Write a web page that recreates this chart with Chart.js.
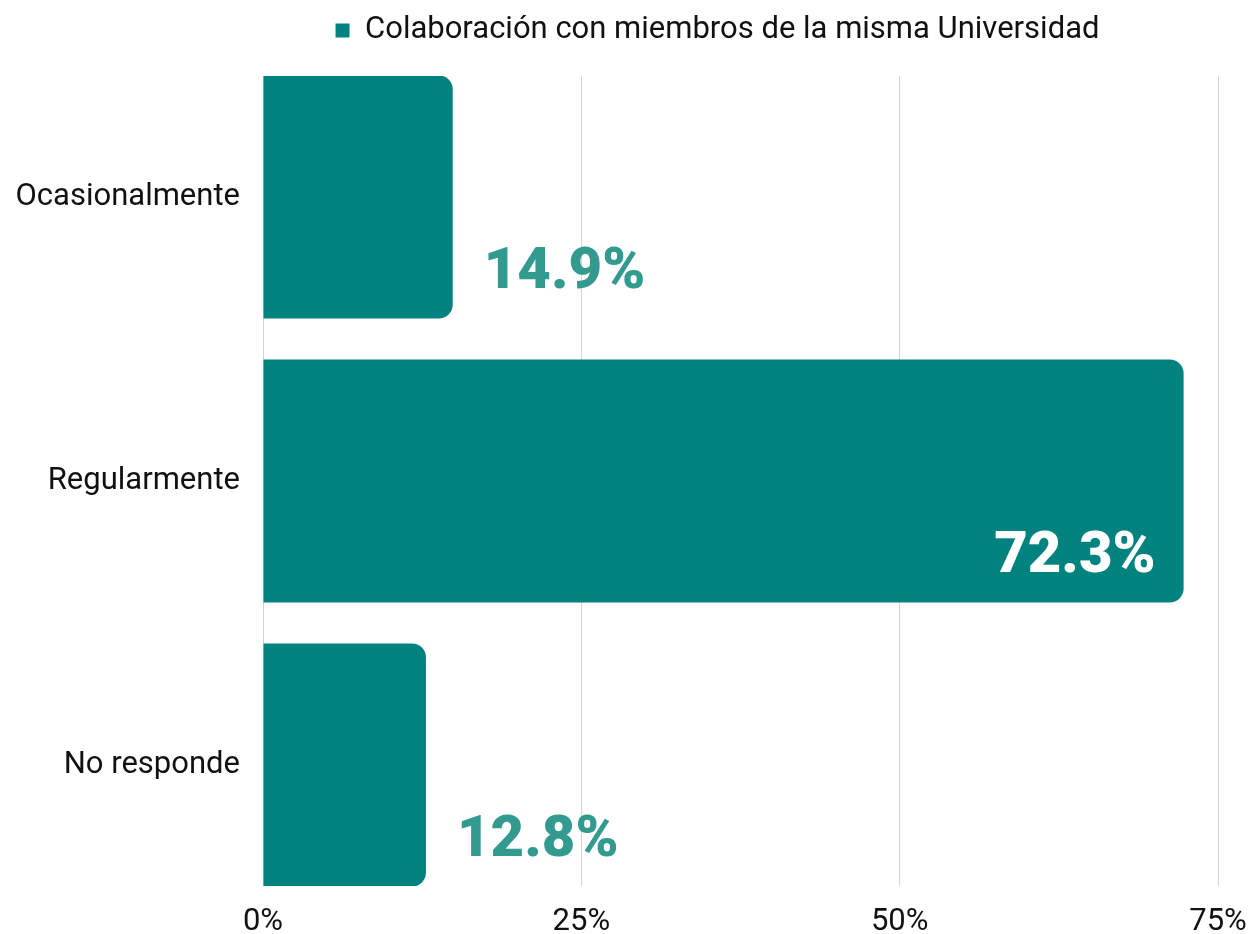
<!DOCTYPE html>
<html>
<head>
<meta charset="utf-8">
<script src="https://cdn.jsdelivr.net/npm/chart.js@4.4.1/dist/chart.umd.min.js"></script>
<style>
  body { margin: 0; background: #ffffff; }
  #wrap { width: 1250px; height: 934px; }
</style>
</head>
<body>
<div id="wrap"><canvas id="chart"></canvas></div>
<script>
// datos
const categories = ["Ocasionalmente", "Regularmente", "No responde"];
const values = [14.9, 72.3, 12.8];
const seriesName = "Colaboración con miembros de la misma Universidad";
const xTicks = [0, 25, 50, 75];

const teal = "#00827F";
const tealLabel = "#339A90";
const font = "Roboto, 'Liberation Sans', sans-serif";

// etiquetas de valor sobre las barras
const valueLabels = {
    id: "valueLabels",
    afterDatasetsDraw(chart) {
        const ctx = chart.ctx;
        const meta = chart.getDatasetMeta(0);
        ctx.save();
        ctx.font = "900 58px " + font;
        ctx.textBaseline = "alphabetic";
        meta.data.forEach((bar, i) => {
            const v = values[i];
            const text = v.toFixed(1) + "%";
            const y = bar.y + bar.height / 2 - 31;
            if (v > 50) {
                ctx.fillStyle = "#ffffff";
                ctx.textAlign = "right";
                ctx.fillText(text, bar.x - 28, y);
            } else {
                ctx.fillStyle = tealLabel;
                ctx.textAlign = "left";
                ctx.fillText(text, bar.x + 31, y);
            }
        });
        ctx.restore();
    }
};

// ajuste de la leyenda: espacio debajo y desplazamiento a la izquierda
const legendTweak = {
    id: "legendTweak",
    afterInit(chart) {
        const legend = chart.legend;
        const fit = legend.fit;
        legend.fit = function () {
            fit.call(this);
            this.height = 76;
        };
    },
    afterLayout(chart) {
        chart.legend.left -= 23;
        chart.legend.right -= 23;
    }
};

const ctx = document.getElementById("chart").getContext("2d");
const myChart = new Chart(ctx, {
    type: "bar",
    data: {
        datasets: [{
            label: seriesName,
            data: values.map((v, i) => ({ x: v, y: i })),
            backgroundColor: teal,
            borderWidth: 0,
            borderRadius: { topRight: 14, bottomRight: 14, topLeft: 0, bottomLeft: 0 },
            borderSkipped: "start",
            categoryPercentage: 1,
            barPercentage: 0.856
        }]
    },
    options: {
        indexAxis: "y",
        responsive: true,
        maintainAspectRatio: false,
        animation: false,
        layout: { padding: 0 },
        plugins: {
            legend: {
                position: "top",
                fullSize: false,
                labels: {
                    boxWidth: 14,
                    boxHeight: 14,
                    color: "#111111",
                    font: { family: font, size: 31 },
                    padding: 15
                }
            },
            tooltip: { enabled: false }
        },
        scales: {
            x: {
                min: 0,
                max: 75,
                afterBuildTicks: (axis) => { axis.ticks = xTicks.map((v) => ({ value: v })); },
                afterFit: (axis) => {
                    axis.height = 48;
                    axis.paddingLeft = 0;
                    axis.paddingRight = 32;
                },
                ticks: {
                    callback: (v) => v + "%",
                    color: "#111111",
                    font: { family: font, size: 31 },
                    padding: 18
                },
                grid: { color: "#d4d4d4", lineWidth: 1, drawTicks: false },
                border: { display: false }
            },
            y: {
                type: "linear",
                reverse: true,
                offset: false,
                bounds: "data",
                min: -0.426,
                max: 2.426,
                afterBuildTicks: (axis) => { axis.ticks = categories.map((c, i) => ({ value: i })); },
                afterFit: (axis) => { axis.width = 263; },
                ticks: {
                    callback: (v) => categories[v],
                    color: "#111111",
                    font: { family: font, size: 31 },
                    padding: 23
                },
                grid: { display: false, drawTicks: false, offset: false },
                border: { display: false }
            }
        }
    },
    plugins: [valueLabels, legendTweak]
});
</script>
</body>
</html>
